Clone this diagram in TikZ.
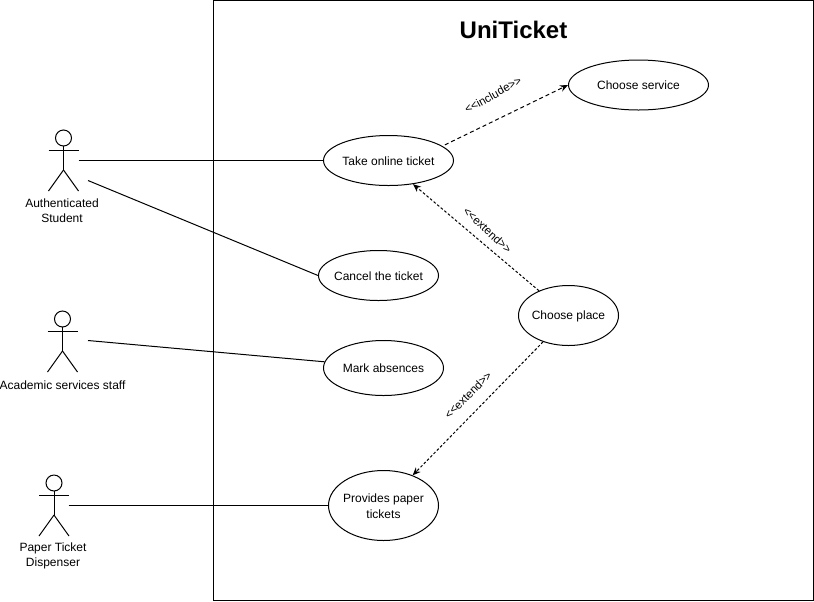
\documentclass[tikz,border=0pt]{standalone}
\usepackage{fontspec}
\setmainfont{Liberation Sans}
\usetikzlibrary{arrows.meta,shapes,positioning}
\tikzset{>={Stealth[length=6pt,width=5pt]}}
\tikzset{
  usecase/.style={draw,ellipse,inner sep=0pt},
  every label/.style={align=center,inner sep=0pt,yshift=-0.4pt,font=\fontsize{9}{12}\selectfont},
  actorlabel/.style={align=center,font=\fontsize{9}{11.25}\selectfont},
  relation/.style={font=\fontsize{8.6}{10}\selectfont},
  pics/actor/.style={code={
    \draw (0,-22) circle (8);
    \draw (0,-14)--(0,10);
    \draw (-15,-10)--(15,-10);
    \draw (0,10)--(-15,31);
    \draw (0,10)--(15,31);
  }}
}

\begin{document}
\begin{tikzpicture}[x=0.75pt,y=-0.75pt,line width=0.75pt]
  \useasboundingbox (0,0) rectangle (814,601);
  \node [draw,minimum width=450pt,minimum height=450pt,inner sep=0pt] (system) at (513.5,300.5) {};
  \node [font=\bfseries\fontsize{18}{22}\selectfont] (title) at (513.5,30) {UniTicket};

  % use cases
  \node [usecase,minimum width=97.5pt,minimum height=37.5pt,label=center:Take online ticket] (take) at (388.5,160.5) {};
  \node [usecase,minimum width=105pt,minimum height=37.5pt,label=center:Choose service] (service) at (638.5,85) {};
  \node [usecase,minimum width=90pt,minimum height=37.5pt,label=center:Cancel the ticket] (cancel) at (378.5,275.5) {};
  \node [usecase,minimum width=90pt,minimum height=41.25pt,label=center:Mark absences] (mark) at (383.5,368) {};
  \node [usecase,minimum width=82.5pt,minimum height=52.5pt,label={center:Provides paper\\tickets}] (paper) at (383.5,505.5) {};
  \node [usecase,minimum width=75pt,minimum height=45pt,label=center:Choose place] (place) at (568.5,315.5) {};

  % actors
  \pic at (63.5,160) {actor};
  \pic at (62.5,341) {actor};
  \pic at (54,505) {actor};
  \node [actorlabel] (studentlabel) at (62,210.5) {Authenticated\\Student};
  \node [actorlabel] (stafflabel) at (62.5,385) {Academic services staff};
  \node [actorlabel] (dispenserlabel) at (53,555.5) {Paper Ticket\\Dispenser};

  \coordinate (student1) at (78.5,160.5);
  \coordinate (student2) at (88,180.5);
  \coordinate (staff) at (88,340.5);
  \coordinate (dispenser) at (68.5,505.5);

  \draw (student1)--(take.west);
  \draw (student2)--(cancel.west);
  \draw (staff)--(mark.174);
  \draw (dispenser)--(paper.west);

  \draw [->,dash pattern=on 3pt off 2.25pt,shorten <=2pt] (take.15)--(service.west);
  \draw [->,dash pattern=on 2pt off 1.5pt] (place.140)--(take.-44);
  \draw [->,dash pattern=on 2pt off 1.5pt] (place.-134)--(paper.46);

  \node [relation,rotate=29] (includelabel) at (493,95) {{<}{<}include{>}{>}};
  \node [relation,rotate=-43] (extendlabel1) at (487.5,230) {{<}{<}extend{>}{>}};
  \node [relation,rotate=45] (extendlabel2) at (468,395) {{<}{<}extend{>}{>}};
\end{tikzpicture}
\end{document}
